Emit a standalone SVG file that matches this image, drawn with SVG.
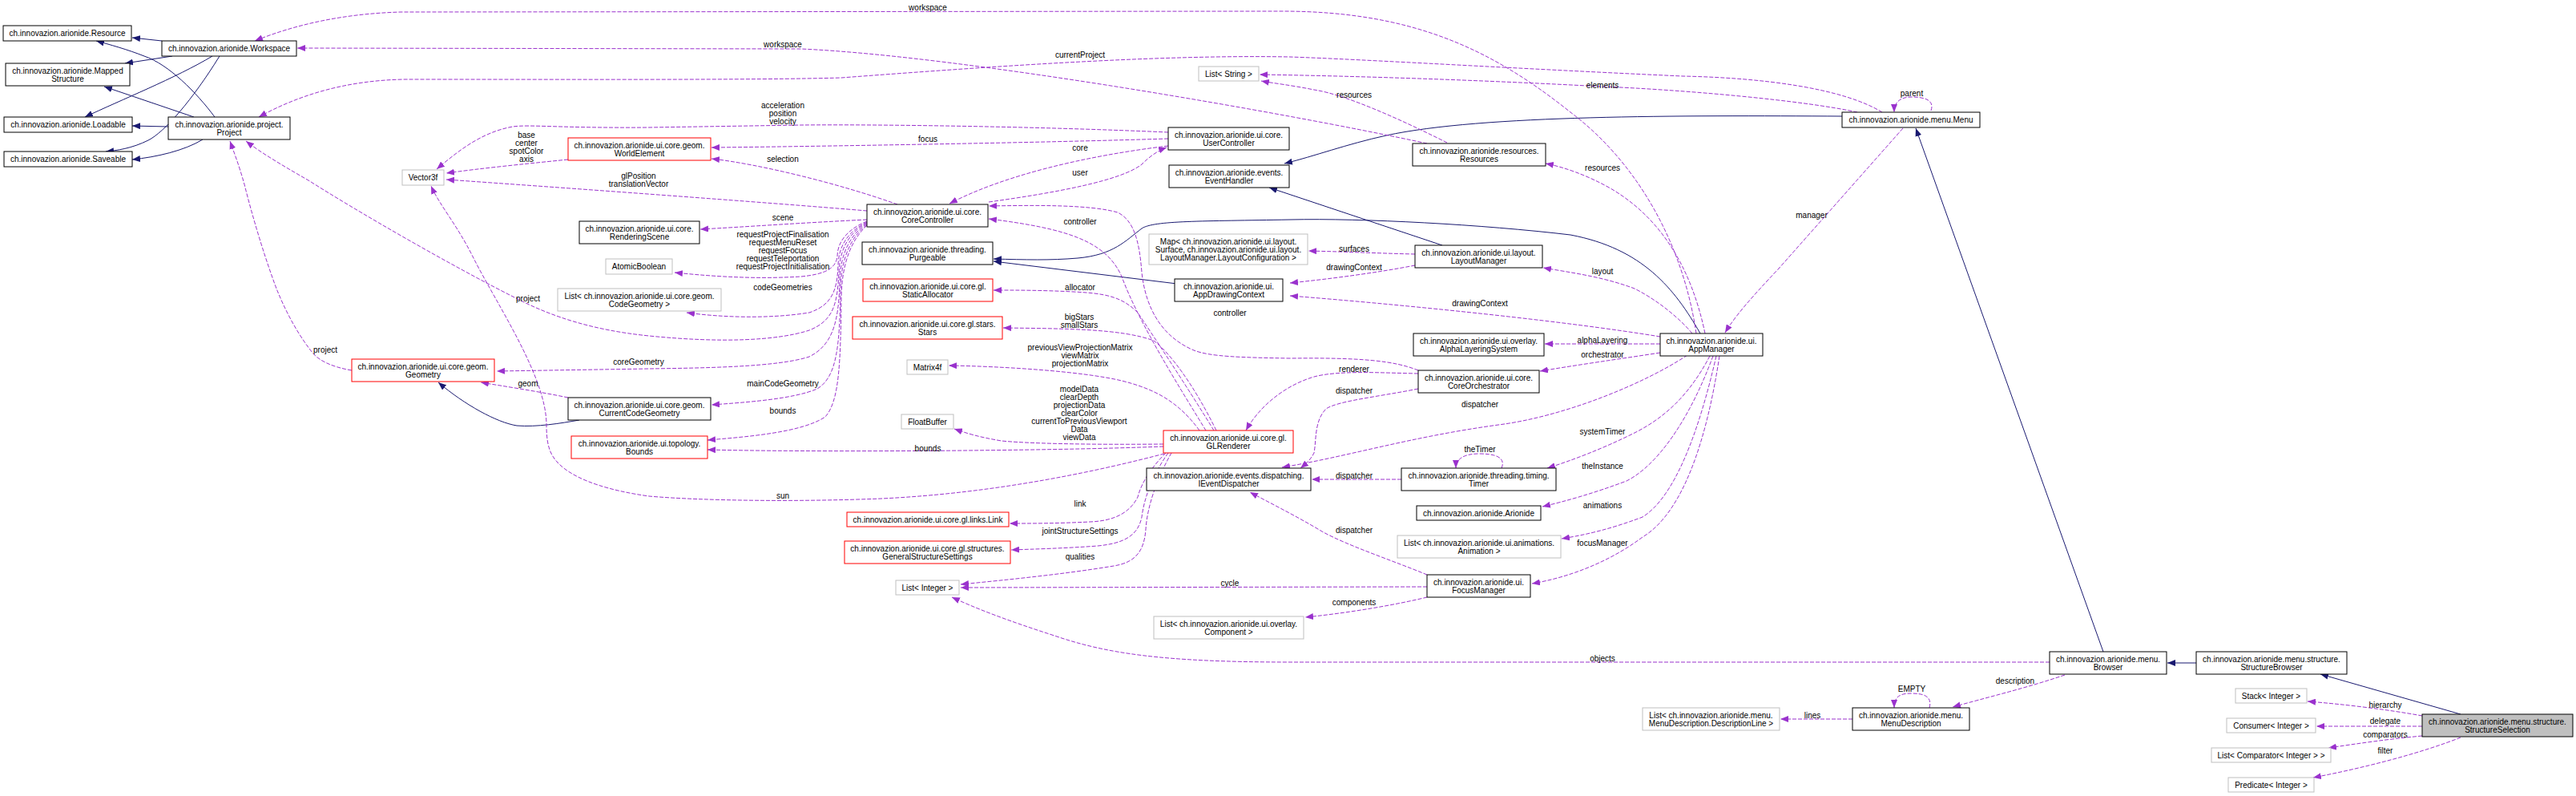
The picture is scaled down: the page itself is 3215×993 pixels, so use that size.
<svg xmlns="http://www.w3.org/2000/svg" width="3215" height="993" viewBox="0 0 3215 993">
<defs>
<style>
text{font-family:"Liberation Sans",Arial,Helvetica,sans-serif;font-size:10px;fill:#000;text-anchor:middle}
.n rect{fill:#fff;stroke:#000;stroke-width:1}
.g rect{fill:#fff;stroke:#bfbfbf;stroke-width:1}
.r rect{fill:#fff;stroke:#ff0000;stroke-width:1}
.s rect{fill:#bfbfbf;stroke:#000;stroke-width:1}
.e{fill:none;stroke:#9a32cd;stroke-width:1;stroke-dasharray:5,2;marker-end:url(#ap)}
.i{fill:none;stroke:#191970;stroke-width:1;marker-end:url(#an)}
</style>
<marker id="ap" markerWidth="10" markerHeight="8" refX="10" refY="4" orient="auto" markerUnits="userSpaceOnUse"><path d="M0,0 L10,4 L0,8 z" fill="#9a32cd"/></marker>
<marker id="an" markerWidth="10" markerHeight="8" refX="10" refY="4" orient="auto" markerUnits="userSpaceOnUse"><path d="M0,0 L10,4 L0,8 z" fill="#191970"/></marker>
</defs>
<rect width="3215" height="993" fill="#fff"/>

<g id="connectors">
<!-- inheritance -->
<path class="i" d="M202,51 L165,47"/>
<path class="i" d="M215,70 L156,79"/>
<path class="i" d="M265,70 C220,97 150,125 106,146"/>
<path class="i" d="M274,70 C240,125 205,165 185,175 C165,185 145,188 132,189"/>
<path class="i" d="M268,146 C245,115 210,80 180,70 C160,62 135,55 120,51"/>
<path class="i" d="M242,146 L130,108"/>
<path class="i" d="M210,158 L165,157"/>
<path class="i" d="M253,174 C230,188 195,196 165,199"/>
<path class="i" d="M723,524 C700,528 670,533 645,531 C620,527 580,505 547,477"/>
<path class="i" d="M2299,145 C2100,144 1850,143 1730,169 C1680,180 1640,195 1603,204"/>
<path class="i" d="M1800,306 L1584,234"/>
<path class="i" d="M2122,416 C2090,360 2050,310 1960,293 C1850,280 1700,272 1610,274 C1500,276 1440,275 1425,285 C1405,300 1390,318 1345,322 C1310,325 1280,324 1240,323"/>
<path class="i" d="M1469,354 L1240,326"/>
<path class="i" d="M2625,813 L2391,160"/>
<path class="i" d="M2741,827 L2705,827"/>
<path class="i" d="M3071,891 L2896,841"/>

<!-- usage -->
<path class="e" d="M2117,416 C2100,300 2040,200 1960,140 C1860,60 1760,14 1600,14 L500,15 C430,17 370,30 318,51"/>
<text x="1158" y="13">workspace</text>
<path class="e" d="M1781,179 C1600,140 1200,70 1000,61 L371,60"/>
<text x="977" y="59">workspace</text>
<path class="e" d="M2349,140 C2300,110 2200,97 2100,95 C1900,86 1700,74 1610,71 C1450,68 1250,82 1050,97 C950,100 700,99 506,99 C430,100 370,120 323,146"/>
<text x="1348" y="72">currentProject</text>
<path class="e" d="M2318,140 C2250,125 2100,112 2000,108 C1850,100 1700,95 1572,93"/>
<text x="2000" y="110">elements</text>
<path class="e" d="M1806,178 C1750,150 1680,118 1640,112 C1610,106 1590,104 1574,101"/>
<text x="1690" y="122">resources</text>
<path class="e" d="M2410,138 C2415,124 2400,121 2386,121 C2372,121 2364,127 2364,140"/>
<text x="2386" y="120">parent</text>
<path class="e" d="M2375,160 L2220,335 C2185,372 2165,395 2153,415"/>
<text x="2261" y="272">manager</text>
<path class="e" d="M709,199 C650,205 600,210 557,216"/>
<text x="657" y="172">base</text><text x="657" y="182">center</text><text x="657" y="192">spotColor</text><text x="657" y="202">axis</text>
<path class="e" d="M1458,165 C1300,158 1100,155 1000,156 L810,159 C700,160 660,155 640,158 C600,165 570,190 545,211"/>
<text x="977" y="135">acceleration</text><text x="977" y="145">position</text><text x="977" y="155">velocity</text>
<path class="e" d="M1082,263 C950,252 700,234 557,224"/>
<text x="797" y="223">glPosition</text><text x="797" y="233">translationVector</text>
<path class="e" d="M1453,566 C1380,585 1250,615 1100,622 C1000,626 880,625 810,619 C760,612 725,600 705,585 C688,572 682,560 682,530 C682,470 620,380 590,320 C570,280 548,255 538,232"/>
<text x="977" y="622">sun</text>
<path class="e" d="M1458,173 C1300,178 1000,183 888,184"/>
<text x="1158" y="177">focus</text>
<path class="e" d="M1120,255 C1050,230 950,205 888,198"/>
<text x="977" y="202">selection</text>
<path class="e" d="M1458,182 C1350,195 1250,220 1185,254"/>
<text x="1348" y="188">core</text>
<path class="e" d="M1234,252 C1320,240 1400,225 1425,205 C1435,195 1445,188 1456,184"/>
<text x="1348" y="219">user</text>
<path class="e" d="M1082,274 C1000,278 930,283 874,286"/>
<text x="977" y="275">scene</text>
<path class="e" d="M1082,276 C1060,285 1045,300 1045,320 C1043,335 1030,342 1000,345 C950,348 900,346 842,340"/>
<text x="977" y="296">requestProjectFinalisation</text><text x="977" y="306">requestMenuReset</text><text x="977" y="316">requestFocus</text><text x="977" y="326">requestTeleportation</text><text x="977" y="336">requestProjectInitialisation</text>
<path class="e" d="M1082,277 C1060,288 1047,305 1046,330 C1045,360 1040,380 1010,390 C960,398 900,396 857,390"/>
<text x="977" y="362">codeGeometries</text>
<path class="e" d="M1082,278 C1060,290 1048,310 1047,340 C1045,380 1040,400 1010,412 C970,425 900,428 810,419 C740,412 690,395 650,375 C560,330 440,260 385,225 C350,205 325,190 307,176"/>
<text x="659" y="376">project</text>
<path class="e" d="M1082,279 C1062,292 1049,315 1048,350 C1047,400 1040,430 1010,445 C970,458 880,459 810,460 L620,463"/>
<text x="797" y="455">coreGeometry</text>
<path class="e" d="M1082,280 C1063,295 1050,320 1049,360 C1048,430 1045,470 1020,485 C990,498 930,502 888,505"/>
<text x="977" y="482">mainCodeGeometry</text>
<path class="e" d="M1082,281 C1064,298 1051,325 1050,370 C1049,450 1048,500 1030,520 C1000,540 930,545 883,549"/>
<text x="977" y="516">bounds</text>
<path class="e" d="M1452,557 C1300,563 1000,564 883,561"/>
<text x="1158" y="563">bounds</text>
<path class="e" d="M1770,462 C1740,450 1700,446 1610,447 C1550,446 1510,445 1490,437 C1450,420 1430,385 1425,340 C1422,300 1415,275 1395,265 C1360,255 1290,256 1234,257"/>
<text x="1535" y="394">controller</text>
<path class="e" d="M1505,537 C1470,480 1420,400 1400,345 C1380,300 1330,285 1234,273"/>
<text x="1348" y="280">controller</text>
<path class="e" d="M1515,537 C1480,480 1440,420 1420,390 C1400,370 1380,366 1340,364 C1300,362 1270,362 1240,362"/>
<text x="1348" y="362">allocator</text>
<path class="e" d="M1518,537 C1490,480 1460,440 1440,425 C1400,410 1330,410 1252,409"/>
<text x="1347" y="399">bigStars</text><text x="1347" y="409">smallStars</text>
<path class="e" d="M1497,537 C1470,500 1440,485 1400,475 C1350,463 1250,457 1184,456"/>
<text x="1348" y="437">previousViewProjectionMatrix</text><text x="1348" y="447">viewMatrix</text><text x="1348" y="457">projectionMatrix</text>
<path class="e" d="M1452,554 C1350,555 1280,553 1250,550 C1220,545 1205,540 1191,535"/>
<text x="1347" y="489">modelData</text><text x="1347" y="499">clearDepth</text><text x="1347" y="509">projectionData</text><text x="1347" y="519">clearColor</text><text x="1347" y="529">currentToPreviousViewport</text><text x="1347" y="539">Data</text><text x="1347" y="549">viewData</text>
<path class="e" d="M1455,565 C1440,580 1425,600 1420,620 C1410,640 1390,650 1360,651 C1320,653 1290,653 1260,653"/>
<text x="1348" y="632">link</text>
<path class="e" d="M1458,565 C1440,590 1428,620 1425,645 C1420,670 1400,678 1370,681 C1330,684 1290,685 1262,686"/>
<text x="1348" y="666">jointStructureSettings</text>
<path class="e" d="M1462,565 C1445,595 1432,630 1430,660 C1428,690 1415,702 1390,706 C1330,716 1260,723 1199,729"/>
<text x="1348" y="698">qualities</text>
<path class="e" d="M1781,732 L1199,733"/>
<text x="1535" y="731">cycle</text>
<path class="e" d="M2558,826 L1610,826 C1450,826 1380,815 1316,793 C1260,775 1220,760 1188,745"/>
<text x="2000" y="825">objects</text>
<path class="e" d="M1781,745 C1740,755 1680,765 1629,770"/>
<text x="1690" y="755">components</text>
<path class="e" d="M1781,717 C1740,700 1680,680 1650,663 C1620,645 1590,630 1560,614"/>
<text x="1690" y="665">dispatcher</text>
<path class="e" d="M1749,598 L1637,598"/>
<text x="1690" y="597">dispatcher</text>
<path class="e" d="M1874,584 C1880,570 1865,566 1846,566 C1828,566 1817,572 1817,584"/>
<text x="1847" y="564">theTimer</text>
<path class="e" d="M1770,485 C1720,495 1670,500 1655,510 C1640,525 1643,550 1640,565 C1635,575 1628,580 1623,584"/>
<text x="1690" y="491">dispatcher</text>
<path class="e" d="M1770,466 C1720,465 1670,462 1640,470 C1600,482 1570,510 1555,537"/>
<text x="1690" y="464">renderer</text>
<path class="e" d="M2106,443 C2050,480 1950,520 1870,530 C1760,545 1680,570 1600,583"/>
<text x="1847" y="508">dispatcher</text>
<path class="e" d="M2134,444 C2110,490 2080,520 2040,540 C2000,560 1960,575 1931,584"/>
<text x="2000" y="542">systemTimer</text>
<path class="e" d="M2138,444 C2110,520 2070,580 2030,600 C1990,615 1955,625 1925,632"/>
<text x="2000" y="585">theInstance</text>
<path class="e" d="M2142,444 C2120,540 2090,620 2050,645 C2010,660 1980,667 1949,672"/>
<text x="2000" y="634">animations</text>
<path class="e" d="M2146,444 C2130,550 2100,640 2050,670 C2010,700 1960,720 1912,728"/>
<text x="2000" y="681">focusManager</text>
<path class="e" d="M2072,440 C2020,448 1970,455 1922,463"/>
<text x="2000" y="446">orchestrator</text>
<path class="e" d="M2072,429 L1928,429"/>
<text x="2000" y="428">alphaLayering</text>
<path class="e" d="M2072,420 C1950,400 1750,380 1610,369"/>
<text x="1847" y="382">drawingContext</text>
<path class="e" d="M1766,331 C1720,340 1660,348 1610,353"/>
<text x="1690" y="337">drawingContext</text>
<path class="e" d="M1766,317 C1720,316 1680,314 1633,313"/>
<text x="1690" y="314">surfaces</text>
<path class="e" d="M2112,416 C2090,390 2060,370 2040,360 C2000,345 1960,340 1926,334"/>
<text x="2000" y="342">layout</text>
<path class="e" d="M2128,416 C2110,330 2070,270 2010,235 C1980,218 1950,208 1929,204"/>
<text x="2000" y="213">resources</text>
<path class="e" d="M2577,842 C2530,858 2480,870 2437,882"/>
<text x="2515" y="853">description</text>
<path class="e" d="M2408,883 C2412,868 2400,865 2385,865 C2370,865 2364,870 2364,883"/>
<text x="2386" y="863">EMPTY</text>
<path class="e" d="M2312,897 L2222,897"/>
<text x="2262" y="896">lines</text>
<path class="e" d="M3023,893 C2980,885 2920,878 2880,875"/>
<text x="2977" y="883">hierarchy</text>
<path class="e" d="M3023,906 L2891,906"/>
<text x="2977" y="903">delegate</text>
<path class="e" d="M3023,918 C2980,922 2940,928 2906,933"/>
<text x="2977" y="920">comparators</text>
<path class="e" d="M3071,920 C3020,940 2950,958 2887,970"/>
<text x="2977" y="940">filter</text>
<path class="e" d="M439,462 C415,458 398,450 390,440 C370,415 355,385 345,360 C330,320 315,270 305,230 C298,205 292,190 287,176"/>
<text x="406" y="440">project</text>
<path class="e" d="M709,496 C670,488 630,482 600,477"/>
<text x="659" y="482">geom</text>
</g>

<g id="Resource" class="n"><rect x="4" y="32" width="160" height="19"/><text x="84" y="45">ch.innovazion.arionide.Resource</text></g>
<g id="Workspace" class="n"><rect x="202" y="51" width="168" height="19"/><text x="286" y="64">ch.innovazion.arionide.Workspace</text></g>
<g id="MappedStructure" class="n"><rect x="7" y="79" width="155" height="28"/><text x="84.5" y="92">ch.innovazion.arionide.Mapped</text><text x="84.5" y="102">Structure</text></g>
<g id="Loadable" class="n"><rect x="5" y="146" width="160" height="19"/><text x="85" y="159">ch.innovazion.arionide.Loadable</text></g>
<g id="Project" class="n"><rect x="210" y="146" width="152" height="28"/><text x="286" y="159">ch.innovazion.arionide.project.</text><text x="286" y="169">Project</text></g>
<g id="Saveable" class="n"><rect x="5" y="189" width="160" height="19"/><text x="85" y="202">ch.innovazion.arionide.Saveable</text></g>
<g id="Vector3f" class="g"><rect x="502" y="212" width="52" height="19"/><text x="528" y="225">Vector3f</text></g>
<g id="WorldElement" class="r"><rect x="709" y="172" width="178" height="28"/><text x="798" y="185">ch.innovazion.arionide.ui.core.geom.</text><text x="798" y="195">WorldElement</text></g>
<g id="RenderingScene" class="n"><rect x="723" y="276" width="150" height="28"/><text x="798" y="289">ch.innovazion.arionide.ui.core.</text><text x="798" y="299">RenderingScene</text></g>
<g id="AtomicBoolean" class="g"><rect x="756" y="323" width="83" height="19"/><text x="797.5" y="336">AtomicBoolean</text></g>
<g id="ListCodeGeometry" class="g"><rect x="696" y="360" width="204" height="28"/><text x="798" y="373">List&lt; ch.innovazion.arionide.ui.core.geom.</text><text x="798" y="383">CodeGeometry &gt;</text></g>
<g id="Geometry" class="r"><rect x="439" y="448" width="178" height="28"/><text x="528" y="461">ch.innovazion.arionide.ui.core.geom.</text><text x="528" y="471">Geometry</text></g>
<g id="CurrentCodeGeometry" class="n"><rect x="709" y="496" width="178" height="28"/><text x="798" y="509">ch.innovazion.arionide.ui.core.geom.</text><text x="798" y="519">CurrentCodeGeometry</text></g>
<g id="Bounds" class="r"><rect x="713" y="544" width="170" height="28"/><text x="798" y="557">ch.innovazion.arionide.ui.topology.</text><text x="798" y="567">Bounds</text></g>
<g id="UserController" class="n"><rect x="1458" y="159" width="151" height="28"/><text x="1533.5" y="172">ch.innovazion.arionide.ui.core.</text><text x="1533.5" y="182">UserController</text></g>
<g id="EventHandler" class="n"><rect x="1459" y="206" width="150" height="28"/><text x="1534" y="219">ch.innovazion.arionide.events.</text><text x="1534" y="229">EventHandler</text></g>
<g id="CoreController" class="n"><rect x="1082" y="255" width="151" height="28"/><text x="1157.5" y="268">ch.innovazion.arionide.ui.core.</text><text x="1157.5" y="278">CoreController</text></g>
<g id="Purgeable" class="n"><rect x="1076" y="302" width="163" height="28"/><text x="1157.5" y="315">ch.innovazion.arionide.threading.</text><text x="1157.5" y="325">Purgeable</text></g>
<g id="MapLayout" class="g"><rect x="1434" y="292" width="198" height="38"/><text x="1533" y="304.5">Map&lt; ch.innovazion.arionide.ui.layout.</text><text x="1533" y="314.5">Surface, ch.innovazion.arionide.ui.layout.</text><text x="1533" y="324.5">LayoutManager.LayoutConfiguration &gt;</text></g>
<g id="ListString" class="g"><rect x="1496" y="83" width="75" height="18"/><text x="1533.5" y="96">List&lt; String &gt;</text></g>
<g id="Resources" class="n"><rect x="1763" y="179" width="166" height="28"/><text x="1846" y="192">ch.innovazion.arionide.resources.</text><text x="1846" y="202">Resources</text></g>
<g id="LayoutManager" class="n"><rect x="1766" y="306" width="159" height="28"/><text x="1845.5" y="319">ch.innovazion.arionide.ui.layout.</text><text x="1845.5" y="329">LayoutManager</text></g>
<g id="Menu" class="n"><rect x="2299" y="140" width="172" height="19"/><text x="2385" y="153">ch.innovazion.arionide.menu.Menu</text></g>
<g id="StaticAllocator" class="r"><rect x="1077" y="348" width="162" height="28"/><text x="1158" y="361">ch.innovazion.arionide.ui.core.gl.</text><text x="1158" y="371">StaticAllocator</text></g>
<g id="Stars" class="r"><rect x="1064" y="395" width="187" height="28"/><text x="1157.5" y="408">ch.innovazion.arionide.ui.core.gl.stars.</text><text x="1157.5" y="418">Stars</text></g>
<g id="Matrix4f" class="g"><rect x="1132" y="449" width="51" height="18"/><text x="1157.5" y="462">Matrix4f</text></g>
<g id="FloatBuffer" class="g"><rect x="1125" y="517" width="65" height="18"/><text x="1157.5" y="530">FloatBuffer</text></g>
<g id="GLRenderer" class="r"><rect x="1452" y="537" width="162" height="28"/><text x="1533" y="550">ch.innovazion.arionide.ui.core.gl.</text><text x="1533" y="560">GLRenderer</text></g>
<g id="AppDrawingContext" class="n"><rect x="1466" y="348" width="135" height="28"/><text x="1533.5" y="361">ch.innovazion.arionide.ui.</text><text x="1533.5" y="371">AppDrawingContext</text></g>
<g id="IEventDispatcher" class="n"><rect x="1431" y="584" width="205" height="28"/><text x="1533.5" y="597">ch.innovazion.arionide.events.dispatching.</text><text x="1533.5" y="607">IEventDispatcher</text></g>
<g id="Link" class="r"><rect x="1057" y="639" width="202" height="18"/><text x="1158" y="652">ch.innovazion.arionide.ui.core.gl.links.Link</text></g>
<g id="GeneralStructureSettings" class="r"><rect x="1054" y="675" width="207" height="28"/><text x="1157.5" y="688">ch.innovazion.arionide.ui.core.gl.structures.</text><text x="1157.5" y="698">GeneralStructureSettings</text></g>
<g id="ListInteger" class="g"><rect x="1118" y="724" width="79" height="18"/><text x="1157.5" y="737">List&lt; Integer &gt;</text></g>
<g id="ListComponent" class="g"><rect x="1440" y="769" width="187" height="28"/><text x="1533.5" y="782">List&lt; ch.innovazion.arionide.ui.overlay.</text><text x="1533.5" y="792">Component &gt;</text></g>
<g id="AlphaLayeringSystem" class="n"><rect x="1764" y="416" width="163" height="28"/><text x="1845.5" y="429">ch.innovazion.arionide.ui.overlay.</text><text x="1845.5" y="439">AlphaLayeringSystem</text></g>
<g id="AppManager" class="n"><rect x="2072" y="416" width="128" height="28"/><text x="2136" y="429">ch.innovazion.arionide.ui.</text><text x="2136" y="439">AppManager</text></g>
<g id="CoreOrchestrator" class="n"><rect x="1770" y="462" width="151" height="28"/><text x="1845.5" y="475">ch.innovazion.arionide.ui.core.</text><text x="1845.5" y="485">CoreOrchestrator</text></g>
<g id="Timer" class="n"><rect x="1749" y="584" width="193" height="28"/><text x="1845.5" y="597">ch.innovazion.arionide.threading.timing.</text><text x="1845.5" y="607">Timer</text></g>
<g id="Arionide" class="n"><rect x="1768" y="631" width="155" height="18"/><text x="1845.5" y="644">ch.innovazion.arionide.Arionide</text></g>
<g id="ListAnimation" class="g"><rect x="1744" y="668" width="204" height="28"/><text x="1846" y="681">List&lt; ch.innovazion.arionide.ui.animations.</text><text x="1846" y="691">Animation &gt;</text></g>
<g id="FocusManager" class="n"><rect x="1781" y="717" width="129" height="28"/><text x="1845.5" y="730">ch.innovazion.arionide.ui.</text><text x="1845.5" y="740">FocusManager</text></g>
<g id="ListDescriptionLine" class="g"><rect x="2050" y="883" width="171" height="28"/><text x="2135.5" y="896">List&lt; ch.innovazion.arionide.menu.</text><text x="2135.5" y="906">MenuDescription.DescriptionLine &gt;</text></g>
<g id="MenuDescription" class="n"><rect x="2312" y="883" width="146" height="28"/><text x="2385" y="896">ch.innovazion.arionide.menu.</text><text x="2385" y="906">MenuDescription</text></g>
<g id="Browser" class="n"><rect x="2558" y="813" width="146" height="28"/><text x="2631" y="826">ch.innovazion.arionide.menu.</text><text x="2631" y="836">Browser</text></g>
<g id="StructureBrowser" class="n"><rect x="2741" y="813" width="188" height="28"/><text x="2835" y="826">ch.innovazion.arionide.menu.structure.</text><text x="2835" y="836">StructureBrowser</text></g>
<g id="StructureSelection" class="s"><rect x="3023" y="891" width="188" height="28"/><text x="3117" y="904">ch.innovazion.arionide.menu.structure.</text><text x="3117" y="914">StructureSelection</text></g>
<g id="StackInteger" class="g"><rect x="2790" y="859" width="89" height="18"/><text x="2834.5" y="872">Stack&lt; Integer &gt;</text></g>
<g id="ConsumerInteger" class="g"><rect x="2779" y="896" width="111" height="18"/><text x="2834.5" y="909">Consumer&lt; Integer &gt;</text></g>
<g id="ListComparator" class="g"><rect x="2760" y="933" width="149" height="18"/><text x="2834.5" y="946">List&lt; Comparator&lt; Integer &gt; &gt;</text></g>
<g id="PredicateInteger" class="g"><rect x="2781" y="970" width="107" height="18"/><text x="2834.5" y="983">Predicate&lt; Integer &gt;</text></g>
</svg>
